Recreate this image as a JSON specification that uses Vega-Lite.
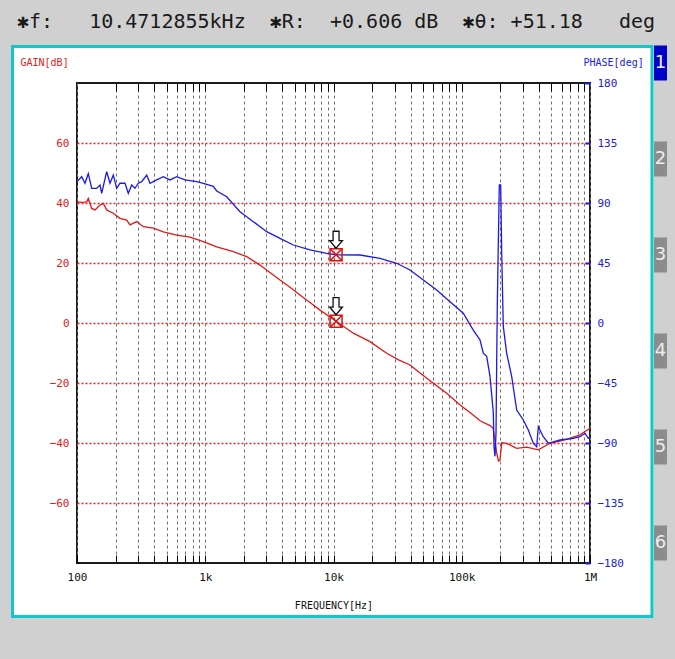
{
  "$schema": "https://vega.github.io/schema/vega-lite/v6.json",
  "width": 513,
  "height": 480,
  "autosize": {"type": "none"},
  "padding": {"left": 77, "top": 83, "right": 85, "bottom": 96},
  "background": "#ffffff",
  "config": {"view": {"stroke": "#1a1a1a", "strokeWidth": 2}, "font": "DejaVu Sans Mono"},
  "datasets": {
    "gain": [
      {"f": 100, "v": 40.4}, {"f": 111, "v": 40.2}, {"f": 119, "v": 40.4}, {"f": 122.5, "v": 41.5}, {"f": 130.2, "v": 38.2},
      {"f": 138.2, "v": 37.7}, {"f": 151.1, "v": 39.3}, {"f": 160.4, "v": 39.9}, {"f": 170.4, "v": 37.7}, {"f": 191.9, "v": 36.6},
      {"f": 216.4, "v": 34.9}, {"f": 244.1, "v": 34.3}, {"f": 259, "v": 32.7}, {"f": 292.1, "v": 33.8}, {"f": 328.9, "v": 32.1},
      {"f": 393.5, "v": 31.6}, {"f": 470.9, "v": 30.4}, {"f": 599, "v": 29.3}, {"f": 760.5, "v": 28.6}, {"f": 965.6, "v": 27.1},
      {"f": 1229, "v": 25.4}, {"f": 1655, "v": 23.8}, {"f": 2105, "v": 22.1}, {"f": 2673, "v": 19.3}, {"f": 3393, "v": 16},
      {"f": 3826, "v": 14.3}, {"f": 4580, "v": 11.9}, {"f": 5481, "v": 9.3}, {"f": 6560, "v": 6.8}, {"f": 7847, "v": 4.3},
      {"f": 10471, "v": 0.606}, {"f": 14270, "v": -3.4}, {"f": 19260, "v": -6.2}, {"f": 25980, "v": -10.1}, {"f": 31840, "v": -12.2},
      {"f": 39490, "v": -14}, {"f": 48980, "v": -17.2}, {"f": 60010, "v": -20.1}, {"f": 76330, "v": -23.4}, {"f": 96920, "v": -27.3},
      {"f": 115990, "v": -29.8}, {"f": 138830, "v": -32.6}, {"f": 166100, "v": -34.2}, {"f": 175300, "v": -35}, {"f": 181700, "v": -39},
      {"f": 187300, "v": -43.4}, {"f": 193400, "v": -46}, {"f": 198700, "v": -45.7}, {"f": 204900, "v": -39.9}, {"f": 224100, "v": -40.1},
      {"f": 268200, "v": -41.8}, {"f": 320900, "v": -41.4}, {"f": 395400, "v": -42.3}, {"f": 487700, "v": -40.1}, {"f": 658000, "v": -38.8},
      {"f": 835600, "v": -37.3}, {"f": 1000000, "v": -35.1}
    ],
    "phase": [
      {"f": 100, "v": 106}, {"f": 108.8, "v": 109.7}, {"f": 115.4, "v": 104.8}, {"f": 122.5, "v": 112}, {"f": 130.2, "v": 101},
      {"f": 142.4, "v": 101}, {"f": 151.1, "v": 103.5}, {"f": 155.8, "v": 97.3}, {"f": 170.4, "v": 113.5}, {"f": 180.8, "v": 104.8},
      {"f": 191.9, "v": 111}, {"f": 204, "v": 101}, {"f": 216.4, "v": 104.8}, {"f": 236.7, "v": 104.8}, {"f": 251.2, "v": 97.3},
      {"f": 267.1, "v": 103.5}, {"f": 283.3, "v": 101}, {"f": 300.6, "v": 104.8}, {"f": 319.6, "v": 106}, {"f": 349.6, "v": 111},
      {"f": 370.9, "v": 104.8}, {"f": 418.2, "v": 107.3}, {"f": 470.9, "v": 109.7}, {"f": 531.1, "v": 107.3}, {"f": 599, "v": 109.7},
      {"f": 695.3, "v": 107.3}, {"f": 857.8, "v": 106}, {"f": 965.6, "v": 104.8}, {"f": 1155.6, "v": 102.5}, {"f": 1229, "v": 99},
      {"f": 1470, "v": 94.7}, {"f": 1866, "v": 83.5}, {"f": 2370, "v": 76}, {"f": 3014, "v": 68.5}, {"f": 3826, "v": 63.5},
      {"f": 4861, "v": 58.5}, {"f": 6560, "v": 54.8}, {"f": 8850, "v": 52.3}, {"f": 10471, "v": 51.18}, {"f": 16090, "v": 51},
      {"f": 23050, "v": 48.5}, {"f": 31110, "v": 44.8}, {"f": 39490, "v": 39.8}, {"f": 50140, "v": 32.3}, {"f": 63780, "v": 24.8},
      {"f": 80990, "v": 16}, {"f": 102800, "v": 7.3}, {"f": 123000, "v": -5.3}, {"f": 138830, "v": -12.75}, {"f": 147200, "v": -22.7},
      {"f": 156500, "v": -25}, {"f": 166100, "v": -40}, {"f": 176200, "v": -67}, {"f": 178400, "v": -92.8}, {"f": 181700, "v": -100},
      {"f": 185000, "v": -82.8}, {"f": 187300, "v": -27.75}, {"f": 189400, "v": 14.8}, {"f": 192800, "v": 59.8}, {"f": 196300, "v": 103.5},
      {"f": 201200, "v": 103.5}, {"f": 204900, "v": 52.3}, {"f": 210900, "v": -2.75}, {"f": 224100, "v": -22.75}, {"f": 245200, "v": -40.3},
      {"f": 268200, "v": -65.3}, {"f": 302000, "v": -72.75}, {"f": 330400, "v": -80.25}, {"f": 361400, "v": -90.2}, {"f": 384100, "v": -92.8},
      {"f": 395400, "v": -77.8}, {"f": 432400, "v": -85.3}, {"f": 473000, "v": -90.2}, {"f": 583600, "v": -87.75}, {"f": 741100, "v": -86.5},
      {"f": 835600, "v": -85.3}, {"f": 914200, "v": -82.75}, {"f": 970000, "v": -86.5}, {"f": 1000000, "v": -85.3}
    ],
    "markerGain": [{"f": 10471, "v": 0.606}],
    "markerPhase": [{"f": 10471, "v": 51.18}],
    "tabs": [{"tab": "1"}, {"tab": "2"}, {"tab": "3"}, {"tab": "4"}, {"tab": "5"}, {"tab": "6"}]
  },
  "resolve": {
    "scale": {"x": "independent", "y": "independent", "color": "independent"},
    "axis": {"x": "independent", "y": "independent"}
  },
  "layer": [
    {
      "data": {"values": [{}]},
      "layer": [
        {
          "mark": {"type": "rect", "color": "#d0d0d0"},
          "encoding": {
            "x": {"datum": 10, "type": "quantitative", "scale": {"type": "log", "domain": [100, 1000000], "nice": false}, "axis": null},
            "x2": {"datum": 10000000},
            "y": {"datum": 110, "type": "quantitative", "scale": {"domain": [-80, 80], "nice": false, "zero": false}, "axis": null},
            "y2": {"datum": 92.67}
          }
        },
        {
          "mark": {"type": "rect", "color": "#d0d0d0"},
          "encoding": {
            "x": {"datum": 10, "type": "quantitative", "axis": null},
            "x2": {"datum": 10000000},
            "y": {"datum": -98.33, "type": "quantitative", "axis": null},
            "y2": {"datum": -115}
          }
        },
        {
          "mark": {"type": "rect", "color": "#d0d0d0"},
          "encoding": {
            "x": {"datum": 10, "type": "quantitative", "axis": null},
            "x2": {"datum": 30.58},
            "y": {"datum": 110, "type": "quantitative", "axis": null},
            "y2": {"datum": -115}
          }
        },
        {
          "mark": {"type": "rect", "color": "#d0d0d0"},
          "encoding": {
            "x": {"datum": 3127000, "type": "quantitative", "axis": null},
            "x2": {"datum": 10000000},
            "y": {"datum": 110, "type": "quantitative", "axis": null},
            "y2": {"datum": -115}
          }
        },
        {
          "mark": {"type": "rect", "fill": "transparent", "stroke": "#10c8cc", "strokeWidth": 3},
          "encoding": {
            "x": {"datum": 31.41, "type": "quantitative", "axis": null},
            "x2": {"datum": 3043100},
            "y": {"datum": 92.17, "type": "quantitative", "axis": null},
            "y2": {"datum": -97.83}
          }
        },
        {
          "mark": {
            "type": "text",
            "text": "✱f:\u00a0\u00a0\u00a010.4712855kHz\u00a0\u00a0✱R:\u00a0\u00a0+0.606\u00a0dB\u00a0\u00a0✱θ:\u00a0+51.18\u00a0\u00a0\u00a0deg",
            "align": "left",
            "baseline": "middle",
            "font": "DejaVu Sans Mono",
            "fontSize": 20,
            "color": "#1a1a1a"
          },
          "encoding": {
            "x": {"datum": 34.0, "type": "quantitative", "axis": null},
            "y": {"datum": 100.33, "type": "quantitative", "axis": null}
          }
        }
      ]
    },
    {
      "encoding": {
        "x": {
          "field": "f", "type": "quantitative",
          "scale": {"type": "log", "domain": [100, 1000000], "nice": false},
          "axis": {
            "orient": "bottom",
            "values": [100, 200, 300, 400, 500, 600, 700, 800, 900, 1000, 2000, 3000, 4000, 5000, 6000, 7000, 8000, 9000, 10000, 20000, 30000, 40000, 50000, 60000, 70000, 80000, 90000, 100000, 200000, 300000, 400000, 500000, 600000, 700000, 800000, 900000, 1000000],
            "labelExpr": "datum.value == 100 ? '100' : datum.value == 1000 ? '1k' : datum.value == 10000 ? '10k' : datum.value == 100000 ? '100k' : datum.value == 1000000 ? '1M' : ''",
            "grid": true, "gridColor": "#6e6e6e", "gridDash": [3, 3], "gridWidth": 1,
            "domain": false,
            "ticks": true, "tickSize": -8, "tickColor": "#000000", "tickWidth": 1,
            "labelFont": "DejaVu Sans Mono", "labelFontSize": 11, "labelColor": "#111111", "labelPadding": 16, "labelFlush": false,
            "title": "FREQUENCY[Hz]", "titleFont": "DejaVu Sans Mono", "titleFontSize": 10, "titleFontWeight": "normal", "titleColor": "#111111",
            "titleX": 256.5, "titleY": 42, "titleBaseline": "middle", "titleAlign": "center"
          }
        },
        "y": {
          "field": "v", "type": "quantitative",
          "scale": {"domain": [-80, 80], "nice": false, "zero": false},
          "axis": {
            "orient": "left",
            "values": [-60, -40, -20, 0, 20, 40, 60],
            "grid": true, "gridColor": "#ff2020", "gridDash": [2, 2], "gridWidth": 1.3,
            "domain": false, "ticks": false,
            "labelFont": "DejaVu Sans Mono", "labelFontSize": 11, "labelColor": "#e02020", "labelPadding": 8,
            "title": "GAIN[dB]", "titleAngle": 0, "titleX": -57, "titleY": -21, "titleAlign": "left", "titleBaseline": "middle",
            "titleFont": "DejaVu Sans Mono", "titleFontSize": 10, "titleFontWeight": "normal", "titleColor": "#e02020"
          }
        }
      },
      "layer": [
        {
          "data": {"name": "gain"},
          "mark": {"type": "line", "color": "#e01818", "strokeWidth": 1.3}
        },
        {
          "data": {"name": "markerGain"},
          "mark": {"type": "point", "shape": "square", "size": 144, "filled": false, "stroke": "#e01010", "strokeWidth": 1.5, "opacity": 1}
        },
        {
          "data": {"name": "markerGain"},
          "mark": {"type": "point", "shape": "M-1,-1L1,1M1,-1L-1,1", "size": 144, "filled": false, "stroke": "#e01010", "strokeWidth": 1.5, "opacity": 1}
        },
        {
          "data": {"name": "markerGain"},
          "mark": {"type": "point", "shape": "M-0.35,-1L0.35,-1L0.35,0.1L0.75,0.1L0,1L-0.75,0.1L-0.35,0.1Z", "size": 289, "filled": true, "fill": "#ffffff", "stroke": "#111111", "strokeWidth": 1.3, "opacity": 1, "yOffset": -15}
        }
      ]
    },
    {
      "encoding": {
        "x": {
          "field": "f", "type": "quantitative",
          "scale": {"type": "log", "domain": [100, 1000000], "nice": false},
          "axis": {
            "orient": "top",
            "values": [200, 300, 400, 500, 600, 700, 800, 900, 1000, 2000, 3000, 4000, 5000, 6000, 7000, 8000, 9000, 10000, 20000, 30000, 40000, 50000, 60000, 70000, 80000, 90000, 100000, 200000, 300000, 400000, 500000, 600000, 700000, 800000, 900000],
            "labels": false, "grid": false, "domain": false,
            "ticks": true, "tickSize": -8, "tickColor": "#000000", "tickWidth": 1,
            "title": null
          }
        },
        "y": {
          "field": "v", "type": "quantitative",
          "scale": {"domain": [-180, 180], "nice": false, "zero": false},
          "axis": {
            "orient": "right",
            "values": [-180, -135, -90, -45, 0, 45, 90, 135, 180],
            "grid": false, "domain": false,
            "ticks": true, "tickSize": -5, "tickColor": "#1a1ae8", "tickWidth": 2,
            "labelFont": "DejaVu Sans Mono", "labelFontSize": 11, "labelColor": "#2020e0", "labelPadding": 12,
            "title": "PHASE[deg]", "titleAngle": 0, "titleX": -7, "titleY": -21, "titleAlign": "left", "titleBaseline": "middle",
            "titleFont": "DejaVu Sans Mono", "titleFontSize": 10, "titleFontWeight": "normal", "titleColor": "#2020e0"
          }
        }
      },
      "layer": [
        {
          "data": {"name": "phase"},
          "mark": {"type": "line", "color": "#1a1ae8", "strokeWidth": 1.3}
        },
        {
          "data": {"name": "markerPhase"},
          "mark": {"type": "point", "shape": "square", "size": 144, "filled": false, "stroke": "#e01010", "strokeWidth": 1.5, "opacity": 1}
        },
        {
          "data": {"name": "markerPhase"},
          "mark": {"type": "point", "shape": "M-1,-1L1,1M1,-1L-1,1", "size": 144, "filled": false, "stroke": "#e01010", "strokeWidth": 1.5, "opacity": 1}
        },
        {
          "data": {"name": "markerPhase"},
          "mark": {"type": "point", "shape": "M-0.35,-1L0.35,-1L0.35,0.1L0.75,0.1L0,1L-0.75,0.1L-0.35,0.1Z", "size": 289, "filled": true, "fill": "#ffffff", "stroke": "#111111", "strokeWidth": 1.3, "opacity": 1, "yOffset": -15}
        }
      ]
    },
    {
      "data": {"name": "tabs"},
      "layer": [
        {
          "mark": {"type": "rect", "width": 13, "height": 35, "yOffset": -20},
          "encoding": {
            "x": {"datum": 3545000, "type": "quantitative", "scale": {"type": "log", "domain": [100, 1000000], "nice": false}, "axis": null},
            "y": {"field": "tab", "type": "ordinal", "scale": {"type": "point", "padding": 0}, "axis": null},
            "color": {"field": "tab", "type": "nominal", "scale": {"domain": ["1", "2", "3", "4", "5", "6"], "range": ["#0000c8", "#8c8c8c", "#8c8c8c", "#8c8c8c", "#8c8c8c", "#8c8c8c"]}, "legend": null}
          }
        },
        {
          "mark": {"type": "text", "yOffset": -20, "align": "center", "baseline": "middle", "font": "DejaVu Sans", "fontSize": 18, "color": "#eeeeee"},
          "encoding": {
            "x": {"datum": 3545000, "type": "quantitative", "axis": null},
            "y": {"field": "tab", "type": "ordinal", "axis": null},
            "text": {"field": "tab"}
          }
        }
      ]
    }
  ]
}
